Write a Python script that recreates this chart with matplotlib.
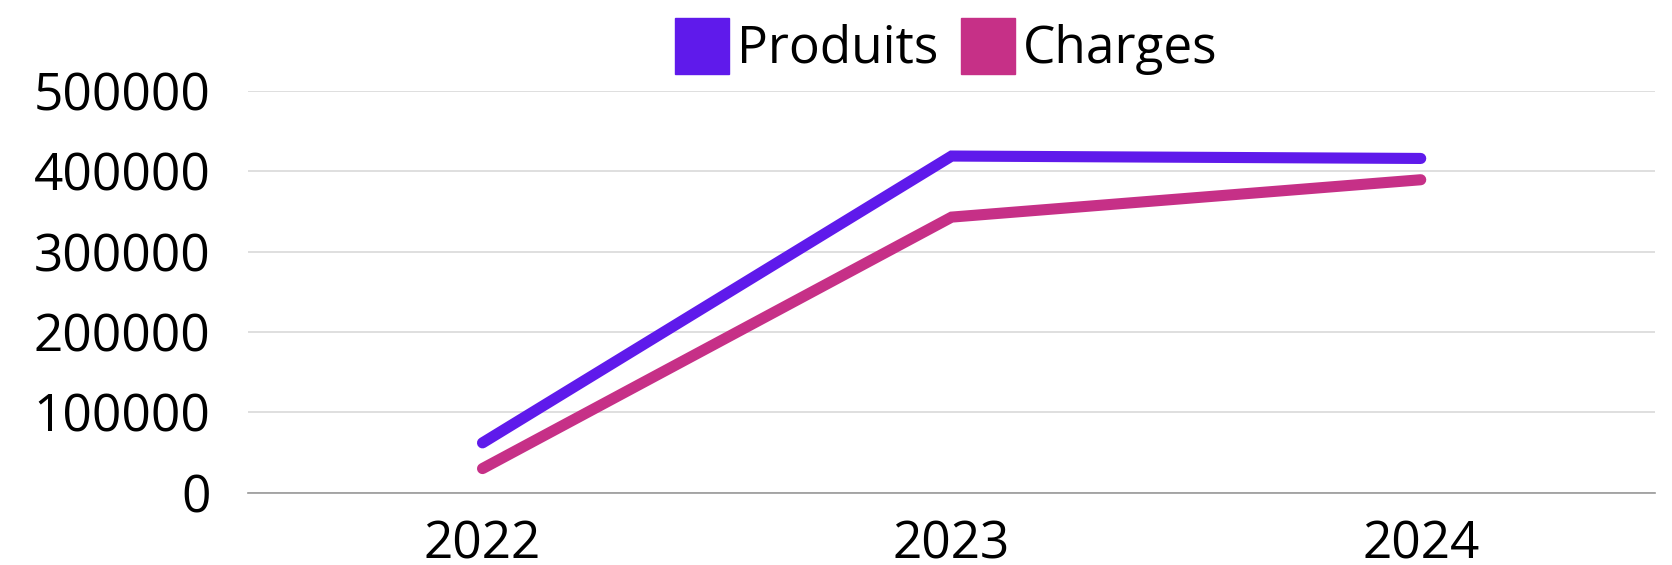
import matplotlib.pyplot as plt
from matplotlib.patches import Patch

plt.rcParams['font.family'] = ['Open Sans', 'DejaVu Sans']

annees = ["2022", "2023", "2024"]
produits = [62000, 419000, 416000]
charges = [30000, 343000, 389500]

couleur_produits = "#5f1aeb"
couleur_charges = "#c63087"

fig = plt.figure(figsize=(16.72, 5.65), dpi=100)
ax = fig.add_axes([0.1483, 0.128, 0.8417, 0.711])

x = range(len(annees))
ax.plot(x, produits, color=couleur_produits, lw=8, solid_capstyle="round", solid_joinstyle="miter")
ax.plot(x, charges, color=couleur_charges, lw=8, solid_capstyle="round", solid_joinstyle="miter")

ax.set_xlim(-0.5, 2.5)
ax.set_ylim(0, 500000)
ax.set_yticks([0, 100000, 200000, 300000, 400000, 500000])
ax.set_yticklabels(["0", "100000", "200000", "300000", "400000", "500000"])
ax.set_xticks(list(x))
ax.set_xticklabels(annees)
ax.tick_params(axis="both", length=0, labelsize=37)
ax.tick_params(axis="y", pad=27)
ax.tick_params(axis="x", pad=19)

ax.grid(axis="y", color="#d9d9d9", lw=1.2)
ax.set_axisbelow(True)
for s in ["top", "right", "left"]:
    ax.spines[s].set_visible(False)
ax.spines["bottom"].set_color("#999999")
ax.spines["bottom"].set_linewidth(1.2)

handles = [Patch(color=couleur_produits, label="Produits"),
           Patch(color=couleur_charges, label="Charges")]
fig.legend(handles=handles, loc="upper center", bbox_to_anchor=(0.566, 1.005), ncol=2,
           frameon=False, fontsize=37, handlelength=1.05, handleheight=1.3,
           handletextpad=0.16, columnspacing=0.43, borderaxespad=0)

fig.savefig("out.png", dpi=100)
